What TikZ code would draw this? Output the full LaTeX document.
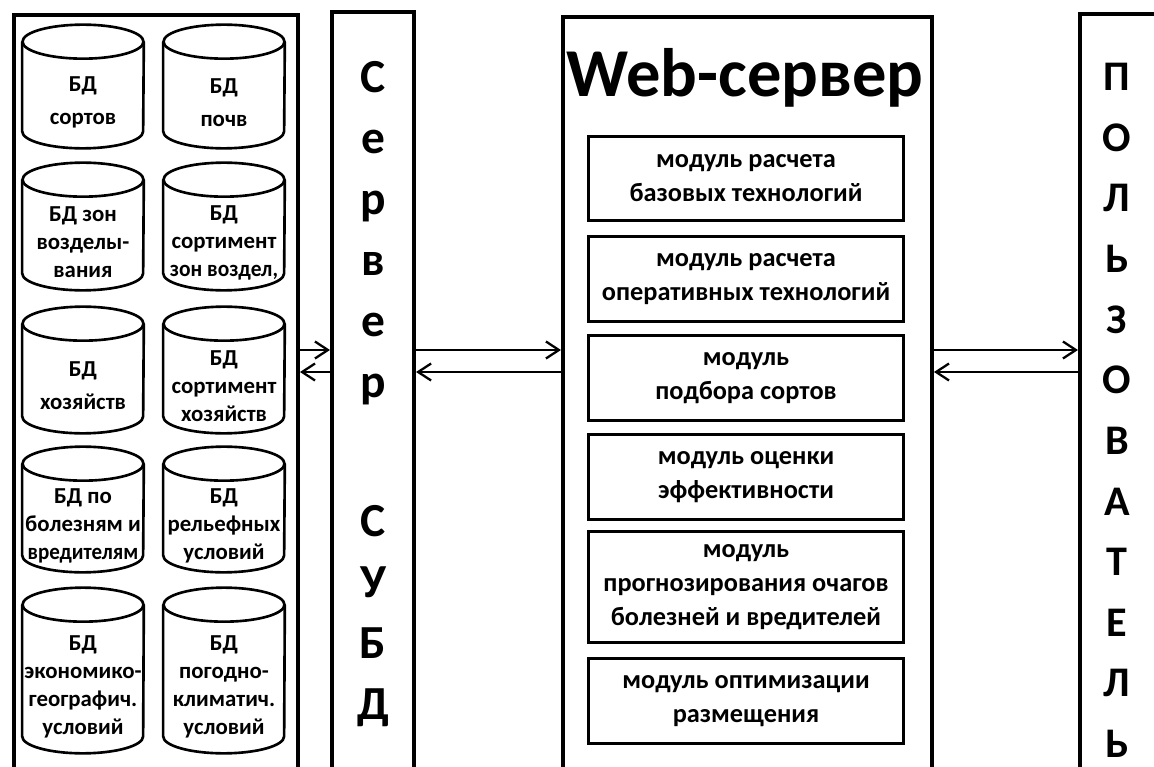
\documentclass[tikz,border=0pt]{standalone}
\usepackage{fontspec}
\setmainfont{Carlito}
\usetikzlibrary{arrows.meta}
\usetikzlibrary{positioning}
\usetikzlibrary{calc}

\tikzset{
  frame/.style={draw, line width=2.3pt, anchor=north west, minimum height=16cm, inner sep=0},
  db/.style={minimum width=2.42cm, inner sep=0},
  dbline/.style={line width=1.5pt},
  dbtext/.style={align=center, inner sep=0, font=\bfseries\fontsize{13pt}{15.9pt}\selectfont},
  module/.style={draw, line width=1.7pt, minimum width=6.3cm, minimum height=1.7cm, align=center, font=\bfseries\fontsize{15pt}{19.3pt}\selectfont},
  letters/.style={align=center, anchor=north, inner sep=0, font=\bfseries\fontsize{27pt}{34.7pt}\selectfont},
  link/.style={line width=1.3pt, -{Straight Barb[length=2.6mm,width=3.4mm]}}
}

\begin{document}
\begin{tikzpicture}[x=0.02cm, y=-0.02cm]
\useasboundingbox (0,0) rectangle (1154,767);
\clip (0,0) rectangle (1154,767);

% frames (open at the bottom)
\node[frame, minimum width=5.68cm] (dbs) at (12,13) {};
\node[frame, minimum width=1.64cm] (dbms) at (330,10) {};
\node[frame, minimum width=7.38cm] (websrv) at (561,15) {};
\node[frame, minimum width=2.6cm] (user) at (1078,12) {};

% databases
\node[db, minimum height=2.46cm] (c11) at (83,86.5) {};
\node[db, minimum height=2.46cm] (c12) at (224,86.5) {};
\node[db, minimum height=2.54cm] (c21) at (83,226.5) {};
\node[db, minimum height=2.54cm] (c22) at (224,226.5) {};
\node[db, minimum height=2.52cm] (c31) at (83,370) {};
\node[db, minimum height=2.52cm] (c32) at (224,370) {};
\node[db, minimum height=2.5cm] (c41) at (83,509.5) {};
\node[db, minimum height=2.5cm] (c42) at (224,509.5) {};
\node[db, minimum height=3.3cm] (c51) at (83,670.5) {};
\node[db, minimum height=3.3cm] (c52) at (224,670.5) {};
\foreach \c in {c11,c12,c21,c22,c31,c32,c41,c42,c51,c52} {
  \draw[dbline] ([yshift=-0.34cm]\c.north) ellipse [x radius=1.21cm, y radius=0.34cm];
  \draw[dbline] ([yshift=-0.34cm]\c.north west) -- ([yshift=0.34cm]\c.south west)
    arc[start angle=180, end angle=360, x radius=1.21cm, y radius=0.34cm] -- ([yshift=-0.34cm]\c.north east);
}

\node[dbtext] (t11) at ($(c11)+(0,16)$) {БД\\[1mm]сортов};
\node[dbtext] (t12) at ($(c12)+(0,16)$) {БД\\[1mm]почв};
\node[dbtext] (t21) at ($(c21)+(0,16)$) {БД зон\\возделы-\\вания};
\node[dbtext] (t22) at ($(c22)+(0,16)$) {БД\\сортимент\\\scalebox{0.94}[1]{зон воздел,}};
\node[dbtext] (t31) at ($(c31)+(0,16)$) {БД\\[1mm]хозяйств};
\node[dbtext] (t32) at ($(c32)+(0,16)$) {БД\\сортимент\\хозяйств};
\node[dbtext] (t41) at ($(c41)+(0,16)$) {БД по\\болезням и\\\scalebox{0.92}[1]{вредителям}};
\node[dbtext] (t42) at ($(c42)+(0,16)$) {БД\\рельефных\\условий};
\node[dbtext] (t51) at ($(c51)+(0,16)$) {БД\\экономико-\\географич.\\условий};
\node[dbtext] (t52) at ($(c52)+(0,16)$) {БД\\погодно-\\климатич.\\условий};

% server names
\node[letters] (dbmsname) at (dbms.north |- 0,61) {С\\е\\р\\в\\е\\р\\[1.56cm]С\\У\\Б\\Д};
\node[letters, font=\bfseries\fontsize{24pt}{34.5pt}\selectfont] (username) at (1117,63) {П\\О\\Л\\Ь\\З\\О\\В\\А\\Т\\Е\\Л\\Ь};

% web server and its modules
\node[anchor=base, font=\bfseries\fontsize{39pt}{39pt}\selectfont] (title) at (745,97) {Web-сервер};
\node[module] (m1) at (746,178.5) {модуль расчета\\базовых технологий};
\node[module, below=0.26cm of m1] (m2) {модуль расчета\\оперативных технологий};
\node[module, below=0.22cm of m2] (m3) {модуль\\подбора сортов};
\node[module, below=0.22cm of m3] (m4) {модуль оценки\\эффективности};
\node[module, below=0.18cm of m4, minimum height=2.22cm] (m5) {модуль\\прогнозирования очагов\\болезней и вредителей};
\node[module, below=0.26cm of m5] (m6) {модуль оптимизации\\размещения};

% links
\coordinate (up) at (0,350);
\coordinate (dn) at (0,372);
\draw[link] (dbs.east |- up) -- (dbms.west |- up);
\draw[link] (dbms.west |- dn) -- (dbs.east |- dn);
\draw[link] (dbms.east |- up) -- (websrv.west |- up);
\draw[link] (websrv.west |- dn) -- (dbms.east |- dn);
\draw[link] (websrv.east |- up) -- (user.west |- up);
\draw[link] (user.west |- dn) -- (websrv.east |- dn);
\end{tikzpicture}
\end{document}
